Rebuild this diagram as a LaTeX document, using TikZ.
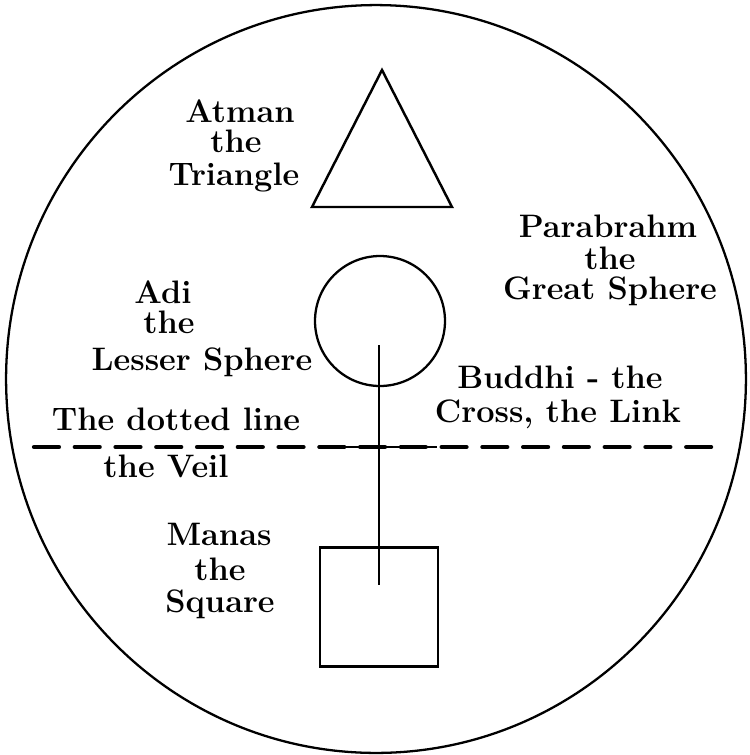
\documentclass[tikz,border=0pt]{standalone}
\usetikzlibrary{positioning}
\usepackage{xcolor}

\begin{document}
\begin{tikzpicture}[
    x=0.02cm, y=-0.02cm,
    lbl/.style={anchor=base, inner sep=0pt, font=\fontsize{18.5}{22}\selectfont\bfseries},
    figline/.style={line width=1.4pt, line join=miter},
    sphere/.style={circle, draw, line width=1.3pt, minimum size=2.6cm, inner sep=0pt},
    cube/.style={rectangle, draw, line width=1.4pt, minimum width=2.36cm,
      minimum height=2.38cm, inner sep=0pt},
    veil/.style={line width=2.4pt, line cap=round, dash pattern=on 14.2pt off 9pt},
    link/.style={line width=1.1pt},
  ]
    \useasboundingbox (0,0) rectangle (750,755);

    % the great sphere
    \draw[line width=1.3pt] (376,379) ellipse [x radius=7.4cm, y radius=7.48cm];

    % triangle, lesser sphere, square
    \coordinate (apex) at (382,70);
    \coordinate (baseL) at (312,207);
    \coordinate (baseR) at (452,207);
    \draw[figline] (apex) -- (baseR) -- (baseL) -- cycle;
    \node[sphere] (adisph) at (380,321) {};
    \node[cube] (manasq) at (379,607) {};

    % the link
    \coordinate (linktop) at (379,345);
    \coordinate (linkend) at (379,585);
    \draw[link] (linktop) -- (linkend);

    % the veil
    \coordinate (veilL) at (34,447);
    \coordinate (veilR) at (712,447);
    \coordinate (solidL) at (345,447);
    \coordinate (solidR) at (437,447);
    \draw[veil] (veilL) -- (veilR);
    \draw[line width=1.6pt] (solidL) -- (solidR);

    % labels
    \node[lbl] (atman) at (240,122) {Atman};
    \node[lbl] (atmanthe) at (236,152) {the};
    \node[lbl] (atmantri) at (234,185) {Triangle};

    \node[lbl] (parab) at (608,237) {Parabrahm};
    \node[lbl] (parabthe) at (610,269) {the};
    \node[lbl] (parabgs) at (610,299) {Great Sphere};

    \node[lbl] (adi) at (163,303) {Adi};
    \node[lbl] (adithe) at (169,333) {the};
    \node[lbl] (adils) at (202,370) {Lesser Sphere};

    \node[lbl] (buddhi) at (560,388) {Buddhi - the};
    \node[lbl] (buddhilink) at (558,422) {Cross, the Link};

    \node[lbl] (dotted) at (176,430) {The dotted line};
    \node[lbl] (theveil) at (166,477) {the Veil};

    \node[lbl] (manas) at (219,545) {Manas};
    \node[lbl] (manasthe) at (220,580) {the};
    \node[lbl] (manassq) at (220,612) {Square};
\end{tikzpicture}
\end{document}
